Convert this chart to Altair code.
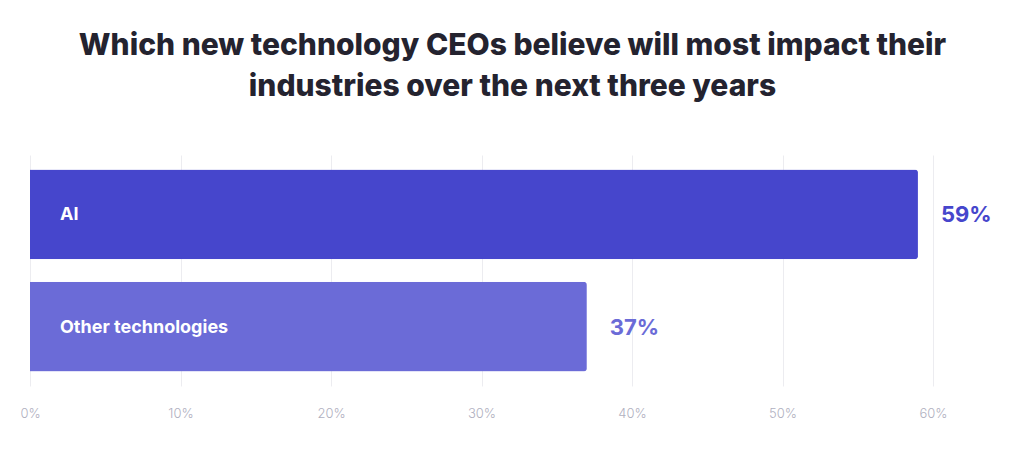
import altair as alt
import pandas as pd

categories = ["AI", "Other technologies"]
values = [59, 37]
bar_colors = ["#4646CC", "#6B6BD7"]
tick_values = [0, 10, 20, 30, 40, 50, 60]

df = pd.DataFrame({
    "cat": categories,
    "val": values,
    "color": bar_colors,
    "pct": [f"{v}%" for v in values],
})

x = alt.X("val:Q", scale=alt.Scale(domain=[0, 60], nice=False),
          axis=alt.Axis(values=tick_values, format=".0f", labelExpr="datum.value + '%'",
                        title=None, domain=False, ticks=False, grid=True,
                        gridColor="#ececf0", gridWidth=1, labelFlush=False,
                        labelColor="#b0b0c0", labelFont="Inter", labelFontWeight=300,
                        labelFontSize=13, labelPadding=21))
y = alt.Y("cat:N", sort=categories,
          scale=alt.Scale(paddingInner=0.2, paddingOuter=0.13),
          axis=None)

base = alt.Chart(df).encode(y=y)

bars = base.mark_bar(cornerRadiusEnd=3).encode(
    x=x,
    color=alt.Color("color:N", scale=None),
)

inner = base.mark_text(align="left", baseline="middle", dx=30, dy=1, color="white",
                       font="Inter", fontWeight=700, fontSize=18).encode(
    x=alt.value(0),
    text="cat:N",
)

outer = base.mark_text(align="left", baseline="middle", dx=23, dy=1,
                       font="Inter", fontWeight=700, fontSize=22).encode(
    x="val:Q",
    text="pct:N",
    color=alt.Color("color:N", scale=None),
)

chart = alt.layer(bars, inner, outer).properties(
    width=903,
    height=231,
    background="white",
    autosize=alt.AutoSizeParams(type="none"),
    padding={"left": 30, "top": 155, "right": 91, "bottom": 64},
    title=alt.TitleParams(
        text=["Which new technology CEOs believe will most impact their",
              "industries over the next three years"],
        anchor="middle", dx=31, offset=53,
        font="Inter", fontWeight=800, fontSize=30, lineHeight=41,
        color="#24232f",
    ),
).configure_view(stroke="transparent", strokeWidth=0)

chart.save("out.html", embed_options={"renderer": "svg", "actions": False})
